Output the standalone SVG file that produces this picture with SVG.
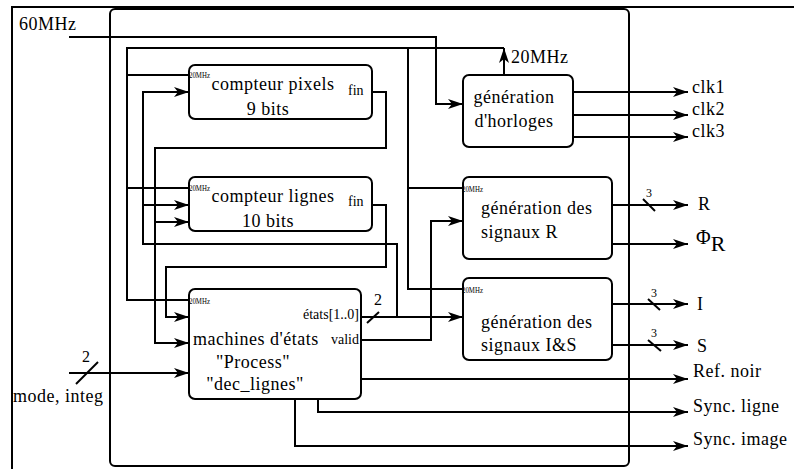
<svg xmlns="http://www.w3.org/2000/svg" width="794" height="469" viewBox="0 0 794 469">
<style>
.ln{fill:none;stroke:#000;stroke-width:2}
.box{fill:#fff;stroke:#000;stroke-width:2}
.t{font-family:"Liberation Serif","Times New Roman",serif;font-size:18px;fill:#000;letter-spacing:0.5px}
.s{font-family:"Liberation Serif","Times New Roman",serif;font-size:14px;fill:#000}
.xs{font-family:"Liberation Serif","Times New Roman",serif;font-size:8px;fill:#000}
.n{font-family:"Liberation Serif","Times New Roman",serif;font-size:12px;fill:#000}
.m{font-family:"Liberation Serif","Times New Roman",serif;font-size:16px;fill:#000}
</style>
<defs>
<marker id="ah" markerWidth="16" markerHeight="12" refX="15" refY="6" orient="auto" markerUnits="userSpaceOnUse"><path d="M0,1 L15,6 L0,11 L4,6 Z" fill="#000"/></marker>
</defs>
<rect width="794" height="469" fill="#fff"/>
<path class="ln" d="M12,469 V7 H794"/>
<rect id="frame" class="ln" x="110" y="9" width="519" height="457" rx="5"/>

<g id="connectors">
<path class="ln" d="M69,37 H436 V104 H463" marker-end="url(#ah)"/>
<path class="ln" d="M504,76 V48" marker-end="url(#ah)"/>
<path class="ln" d="M504,48 H127 V300 H189"/>
<path class="ln" d="M127,75 H189"/>
<path class="ln" d="M127,188 H189"/>
<path class="ln" d="M408,48 V289 H463"/>
<path class="ln" d="M408,188 H463"/>
<path class="ln" d="M372,92 H386 V148 H155 V343 H189" marker-end="url(#ah)"/>
<path class="ln" d="M155,222 H189" marker-end="url(#ah)"/>
<path class="ln" d="M372,205 H386 V267 H166 V317 H189" marker-end="url(#ah)"/>
<path class="ln" d="M361,317 H463" marker-end="url(#ah)"/>
<path class="ln" d="M397,317 V244 H143 V92 H189" marker-end="url(#ah)"/>
<path class="ln" d="M143,205 H189" marker-end="url(#ah)"/>
<path class="ln" d="M367,323 L379,312"/>
<path class="ln" d="M361,340 H431 V221 H463" marker-end="url(#ah)"/>
<path class="ln" d="M361,379 H688" marker-end="url(#ah)"/>
<path class="ln" d="M318,399 V412 H688" marker-end="url(#ah)"/>
<path class="ln" d="M295,399 V446 H688" marker-end="url(#ah)"/>
<path class="ln" d="M69,373 H189" marker-end="url(#ah)"/>
<path class="ln" d="M76,384 L98,362"/>
<path class="ln" d="M573,92 H688" marker-end="url(#ah)"/>
<path class="ln" d="M573,115 H688" marker-end="url(#ah)"/>
<path class="ln" d="M573,137 H688" marker-end="url(#ah)"/>
<path class="ln" d="M612,205 H688" marker-end="url(#ah)"/>
<path class="ln" d="M643,199 L655,211"/>
<path class="ln" d="M612,244 H688" marker-end="url(#ah)"/>
<path class="ln" d="M612,304 H688" marker-end="url(#ah)"/>
<path class="ln" d="M648,299 L660,310"/>
<path class="ln" d="M612,345 H688" marker-end="url(#ah)"/>
<path class="ln" d="M648,340 L661,351"/>
</g>

<g id="cnt-pixels">
<rect class="box" x="189" y="65" width="183" height="54" rx="6"/>
<text class="xs" x="189" y="78" textLength="21" lengthAdjust="spacingAndGlyphs">20MHz</text>
<text class="t" x="273" y="90" text-anchor="middle">compteur pixels</text>
<text class="t" x="268" y="115" text-anchor="middle">9 bits</text>
<text class="s" x="348" y="95">fin</text>
</g>

<g id="cnt-lignes">
<rect class="box" x="189" y="177" width="183" height="54" rx="6"/>
<text class="xs" x="189" y="191" textLength="21" lengthAdjust="spacingAndGlyphs">20MHz</text>
<text class="t" x="273" y="202" text-anchor="middle">compteur lignes</text>
<text class="t" x="268" y="227" text-anchor="middle">10 bits</text>
<text class="s" x="348" y="206">fin</text>
</g>

<g id="machine">
<rect class="box" x="189" y="289" width="172" height="110" rx="6"/>
<text class="xs" x="189" y="304" textLength="21" lengthAdjust="spacingAndGlyphs">20MHz</text>
<text class="s" x="359" y="319" text-anchor="end">états[1..0]</text>
<text class="s" x="359" y="344" text-anchor="end">valid</text>
<text class="t" x="193" y="345">machines d'états</text>
<text class="t" x="253" y="368" text-anchor="middle">"Process"</text>
<text class="t" x="255" y="390" text-anchor="middle">"dec_lignes"</text>
</g>

<g id="gen-horloges">
<rect class="box" x="463" y="75" width="110" height="72" rx="6"/>
<text class="t" x="514" y="103" text-anchor="middle">génération</text>
<text class="t" x="514" y="127" text-anchor="middle">d'horloges</text>
</g>

<g id="gen-R">
<rect class="box" x="463" y="177" width="149" height="82" rx="6"/>
<text class="xs" x="462" y="192" textLength="21" lengthAdjust="spacingAndGlyphs">20MHz</text>
<text class="t" x="481" y="214">génération des</text>
<text class="t" x="481" y="238">signaux R</text>
</g>

<g id="gen-IS">
<rect class="box" x="463" y="278" width="149" height="82" rx="6"/>
<text class="xs" x="462" y="293" textLength="21" lengthAdjust="spacingAndGlyphs">20MHz</text>
<text class="t" x="481" y="328">génération des</text>
<text class="t" x="481" y="351">signaux I&amp;S</text>
</g>

<g id="labels">
<text class="t" x="19" y="30">60MHz</text>
<text class="t" x="511" y="63">20MHz</text>
<text class="t" x="692" y="93">clk1</text>
<text class="t" x="692" y="115">clk2</text>
<text class="t" x="692" y="137">clk3</text>
<text class="n" x="649" y="197" text-anchor="middle">3</text>
<text class="t" x="698" y="210">R</text>
<text font-family="Liberation Serif, serif" font-size="20" x="696" y="244">Φ<tspan font-size="22" dy="7">R</tspan></text>
<text class="n" x="654" y="297" text-anchor="middle">3</text>
<text class="t" x="697" y="310">I</text>
<text class="n" x="654" y="337" text-anchor="middle">3</text>
<text class="t" x="697" y="352">S</text>
<text class="m" x="378" y="305" text-anchor="middle">2</text>
<text class="m" x="86" y="362" text-anchor="middle">2</text>
<text class="t" x="13" y="402">mode, integ</text>
<text class="t" x="693" y="377">Ref. noir</text>
<text class="t" x="693" y="412">Sync. ligne</text>
<text class="t" x="693" y="445">Sync. image</text>
</g>
</svg>
